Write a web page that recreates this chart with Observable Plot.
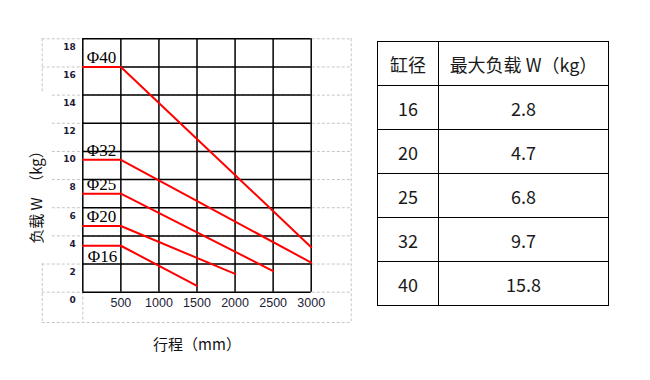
<!DOCTYPE html>
<html>
<head>
<meta charset="utf-8">
<script src="https://cdn.jsdelivr.net/npm/d3@7"></script>
<script src="https://cdn.jsdelivr.net/npm/@observablehq/plot@0.6"></script>
<style>
  html, body { margin: 0; padding: 0; background: #fff; }
  body { position: relative; width: 650px; height: 380px; overflow: hidden; }
  #chart { position: absolute; left: 0; top: 0; }
  #spec {
    position: absolute; left: 377px; top: 41px;
    border-collapse: collapse;
    font-family: "Noto Sans CJK SC", "Noto Sans", sans-serif;
    font-size: 18px; color: #1a1a1a;
  }
  #spec td, #spec th {
    border: 1px solid #000;
    height: 43px; padding: 0;
    text-align: center; vertical-align: middle;
    font-weight: normal; line-height: 1;
  }
  #spec .c1 { width: 60px; }
  #spec .c2 { width: 169px; }
</style>
</head>
<body>
<div id="chart"></div>
<table id="spec"></table>
<script>
// Cylinder bores and the load curve of each: flat up to the knee stroke,
// then falling straight to the longest allowed stroke.
const bores = ["Φ16", "Φ20", "Φ25", "Φ32", "Φ40"];
const kneeStroke = 500;                        // mm
const flatLoad = [3.3, 4.7, 7.0, 9.4, 16.0];   // kg, up to the knee
const maxStroke = [1500, 2000, 2500, 3000, 3000]; // mm
const endLoad = [0.45, 1.3, 1.5, 2.1, 3.2];    // kg at the longest stroke

// Spec table
const tableBore = [16, 20, 25, 32, 40];
const tableLoad = ["2.8", "4.7", "6.8", "9.7", "15.8"];
const tableHead = ["缸径", "最大负载 W（kg）"];

// Axis ticks
const xGrid = [0, 500, 1000, 1500, 2000, 2500, 3000];
const xLabels = [500, 1000, 1500, 2000, 2500, 3000];
const yGrid = [0, 2, 4, 6, 8, 10, 12, 14, 16, 18];

// Points for the load lines
const curves = bores.flatMap((b, i) => [
  {bore: b, stroke: 0, load: flatLoad[i]},
  {bore: b, stroke: kneeStroke, load: flatLoad[i]},
  {bore: b, stroke: maxStroke[i], load: endLoad[i]}
]);
const labels = bores.map((b, i) => ({bore: b, load: flatLoad[i]}));

// Extent of the dashed outer chart box, in data units
const boxLeft = -533, boxInnerLeft = -400, boxRight = 3526, boxBottom = -2.15;
const dash = {stroke: "#c6c6c6", strokeWidth: 1, strokeDasharray: "3,2"};

const chart = Plot.plot({
  width: 370,
  height: 380,
  marginLeft: 82.3,
  marginRight: 59.3,
  marginTop: 38.3,
  marginBottom: 88.3,
  x: {domain: [0, 3000], axis: null},
  y: {domain: [0, 18], axis: null},
  style: {background: "#fff", overflow: "visible"},
  marks: [
    // dashed chart-area box
    Plot.ruleY(yGrid, {y: d => d, x1: d => (d >= 4 && d <= 14 ? boxInnerLeft : boxLeft), x2: boxRight, ...dash}),
    Plot.ruleY([boxBottom], {x1: boxLeft, x2: boxRight, ...dash}),
    Plot.ruleX([boxLeft], {y1: 18, y2: 14.2, ...dash}),
    Plot.ruleX([boxLeft], {y1: 2.04, y2: boxBottom, ...dash}),
    Plot.ruleX([boxRight], {y1: 18, y2: boxBottom, ...dash}),
    Plot.ruleX([0], {y1: 0, y2: boxBottom, ...dash}),
    // black grid
    Plot.ruleX(xGrid, {x: d => d, y1: 0, y2: 18, stroke: "#000", strokeWidth: 1.5}),
    Plot.ruleY(yGrid, {y: d => d, x1: 0, x2: 3000, stroke: "#000", strokeWidth: 1.5}),
    // load lines
    Plot.line(curves, {x: "stroke", y: "load", z: "bore", stroke: "#ff0000", strokeWidth: 2, curve: "linear"}),
    // bore labels
    Plot.text(labels.filter(d => d.bore !== "Φ16"), {
      x: 0, y: "load", text: "bore", textAnchor: "start", lineAnchor: "bottom",
      dx: 4, dy: -4, fontSize: 17, fontFamily: "Liberation Serif, serif", fill: "#000"
    }),
    Plot.text(labels.filter(d => d.bore === "Φ16"), {
      x: 0, y: "load", text: "bore", textAnchor: "start", lineAnchor: "top",
      dx: 5, dy: 4, fontSize: 17, fontFamily: "Liberation Serif, serif", fill: "#000"
    }),
    // tick labels
    Plot.text(yGrid, {
      x: 0, y: d => d, text: d => String(d), textAnchor: "end", dx: -7, dy: 8,
      fontSize: 9, fontWeight: "bold", fontFamily: "DejaVu Sans, sans-serif", fill: "#1b1b35"
    }),
    Plot.text(xLabels, {
      x: d => d, y: 0, text: d => String(d), lineAnchor: "middle", dy: 11,
      fontSize: 12.5, fontFamily: "Liberation Sans, sans-serif", fill: "#1b1b35"
    }),
    // axis titles
    Plot.text(["行程（mm）"], {
      frameAnchor: "bottom", text: d => d, textAnchor: "middle", lineAnchor: "middle", dy: 53,
      fontSize: 15, fontFamily: "Noto Sans CJK SC, sans-serif", fill: "#111"
    }),
    Plot.text(["负载 W\u3000（kg）"], {
      frameAnchor: "left", text: d => d, rotate: -90, textAnchor: "middle", lineAnchor: "middle",
      dx: -46, dy: 28, fontSize: 15, fontFamily: "Noto Sans CJK SC, sans-serif", fill: "#111"
    })
  ]
});
document.getElementById("chart").append(chart);

// Spec table
const table = d3.select("#spec");
table.append("tr").selectAll("th").data(tableHead).join("th")
  .attr("class", (d, i) => "c" + (i + 1)).text(d => d);
table.selectAll("tr.row").data(tableBore.map((b, i) => [b, tableLoad[i]])).join("tr")
  .attr("class", "row")
  .selectAll("td").data(d => d).join("td")
  .attr("class", (d, i) => "c" + (i + 1)).text(d => d);
</script>
</body>
</html>
